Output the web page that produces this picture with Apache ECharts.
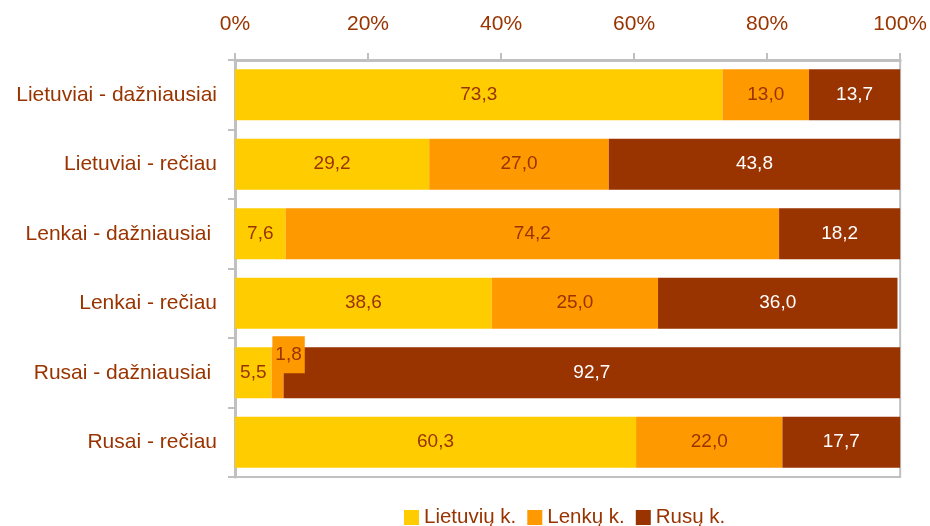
<!DOCTYPE html>
<html>
<head>
<meta charset="utf-8">
<script src="https://cdn.jsdelivr.net/npm/echarts@6/dist/echarts.min.js"></script>
<style>
  html, body { margin: 0; padding: 0; background: #fff; }
  #chart { width: 930px; height: 526px; }
</style>
</head>
<body>
<div id="chart"></div>
<script>
const categories = [
  'Lietuviai - dažniausiai',
  'Lietuviai - rečiau',
  'Lenkai - dažniausiai ',
  'Lenkai - rečiau',
  'Rusai - dažniausiai ',
  'Rusai - rečiau'
]
const seriesNames = ['Lietuvių k.', 'Lenkų k.', 'Rusų k.']
const lietuviu = [73.3, 29.2, 7.6, 38.6, 5.5, 60.3]
const lenku = [13.0, 27.0, 74.2, 25.0, 1.8, 22.0]
const rusu = [13.7, 43.8, 18.2, 36.0, 92.7, 17.7]
const colors = ['#FFCC00', '#FF9900', '#993300']
const brown = '#993300'
const font = 'Liberation Sans, Arial, sans-serif'

const chart = echarts.init(document.getElementById('chart'))

function fmt(p) {
  return p.value.toFixed(1).replace('.', ',')
}

function makeSeries(name, values, color, labelColor) {
  return {
    name: name,
    type: 'bar',
    stack: 'total',
    barWidth: 51,
    itemStyle: { color: color },
    label: {
      show: true,
      position: 'inside',
      formatter: fmt,
      color: labelColor,
      fontSize: 19,
      fontFamily: font
    },
    data: values.map(function (v) { return v }),
    animation: false
  }
}

const series = [
  makeSeries(seriesNames[0], lietuviu, colors[0], brown),
  makeSeries(seriesNames[1], lenku, colors[1], brown),
  makeSeries(seriesNames[2], rusu, colors[2], '#ffffff')
]

// small slice: label sits above the bar on an orange box
series[1].data[4] = {
  value: lenku[4],
  label: {
    offset: [11, -18],
    backgroundColor: colors[1],
    padding: [9, 3, 9, 3]
  }
}

chart.setOption({
  textStyle: { fontFamily: font },
  grid: {
    left: 235, right: 29, top: 60, bottom: 49,
    show: true,
    borderColor: '#C0C0C0',
    borderWidth: 2,
    backgroundColor: 'transparent'
  },
  legend: {
    bottom: -2,
    left: 404,
    padding: 0,
    itemWidth: 15,
    itemHeight: 15,
    itemGap: 11,
    icon: 'rect',
    textStyle: { color: brown, fontSize: 20.5, fontFamily: font },
    data: seriesNames
  },
  xAxis: {
    type: 'value',
    position: 'top',
    min: 0,
    max: 100,
    interval: 20,
    axisLine: { show: true, lineStyle: { color: '#C0C0C0', width: 3 } },
    axisTick: { show: true, length: 7, lineStyle: { color: '#C0C0C0', width: 2 } },
    splitLine: { show: false },
    axisLabel: {
      color: brown,
      fontSize: 21,
      fontFamily: font,
      margin: 25,
      formatter: '{value}%'
    }
  },
  yAxis: {
    type: 'category',
    inverse: true,
    data: categories,
    axisLine: { show: true, lineStyle: { color: '#C0C0C0', width: 3 } },
    axisTick: { show: true, length: 7, lineStyle: { color: '#C0C0C0', width: 2 } },
    axisLabel: {
      color: brown,
      fontSize: 21,
      fontFamily: font,
      margin: 18
    }
  },
  series: series
})
</script>
</body>
</html>
